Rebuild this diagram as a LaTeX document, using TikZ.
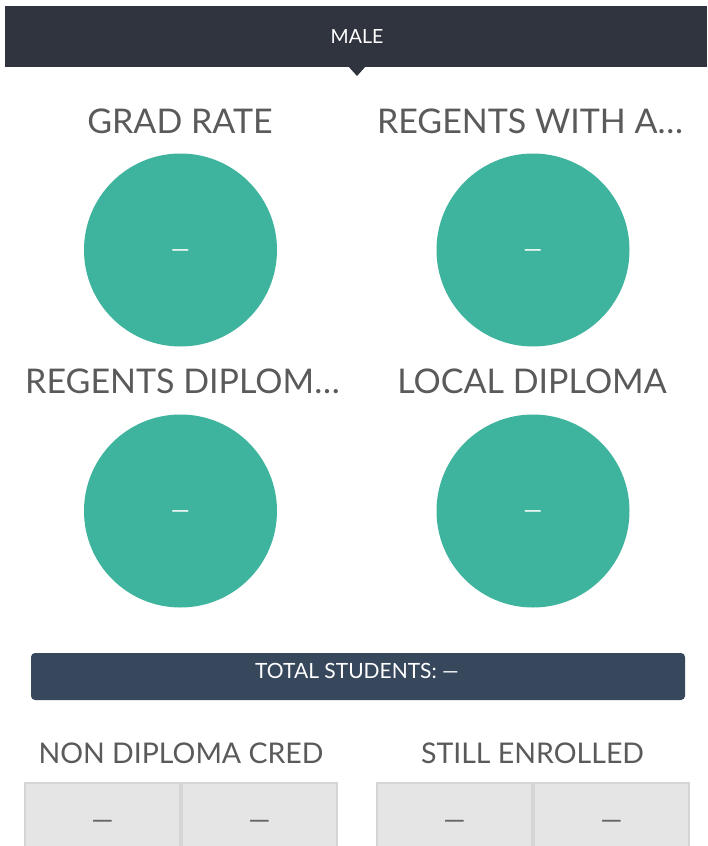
\documentclass[tikz,border=0pt]{standalone}
\usepackage{fontspec}
\setmainfont{Lato}
\definecolor{hdr}{RGB}{48,52,63}
\definecolor{teal}{RGB}{62,180,158}
\definecolor{ttl}{RGB}{90,90,90}
\definecolor{totbar}{RGB}{55,71,92}
\definecolor{cellfill}{RGB}{229,229,229}
\definecolor{cellline}{RGB}{213,213,213}
\definecolor{dashc}{RGB}{100,100,100}
\begin{document}
\begin{tikzpicture}[x=1pt,y=-1pt,
  title/.style={inner sep=0pt,text=ttl,font=\fontsize{34}{40}\selectfont},
  subtitle/.style={inner sep=0pt,text=ttl,font=\fontsize{28.5}{34}\selectfont},
  ring/.style={circle,fill=teal,minimum size=193pt,inner sep=0pt},
  ringtext/.style={inner sep=0pt,text=white,font=\fontsize{24}{28}\selectfont},
  cellbox/.style={fill=cellfill,draw=cellline,line width=2pt},
  celltext/.style={inner sep=0pt,text=dashc,font=\fontsize{28}{32}\selectfont}]
\useasboundingbox (0,0) rectangle (707,846);
\fill[white] (0,0) rectangle (707,846);
% header
\fill[hdr] (5,6) rectangle (707,67);
\fill[hdr] (348,66) -- (366,66) -- (357,76) -- cycle;
\node[inner sep=0pt,text=white,font=\fontsize{19.5}{24}\selectfont] (male) at (357,37) {MALE};
% titles row 1
\node[title] (t1) at (180,121.5) {GRAD RATE};
\node[title] (t2) at (530,121.5) {REGENTS WITH A…};
% circles
\node[ring] (c1) at (180.5,250) {};
\node[ring] (c2) at (533,250) {};
\node[ringtext] (v1) at ([yshift=-4pt]c1.center) {—};
\node[ringtext] (v2) at ([yshift=-4pt]c2.center) {—};
% titles row 2
\begin{scope}
\clip (0,340) rectangle (338,420);
\node[title,anchor=west] (t3) at (25,381.7) {REGENTS DIPLOM…};
\end{scope}
\node[title] (t4) at (532,381.7) {LOCAL DIPLOMA};
\node[ring] (c3) at (180.5,511) {};
\node[ring] (c4) at (533,511) {};
\node[ringtext] (v3) at ([yshift=-4pt]c3.center) {—};
\node[ringtext] (v4) at ([yshift=-4pt]c4.center) {—};
% total bar
\node[fill=totbar,rounded corners=4pt,minimum width=654pt,minimum height=47pt,inner sep=0pt] (tot) at (358,676.5) {};
\node[inner sep=0pt,text=white,font=\fontsize{21}{25}\selectfont] (tottxt) at (357,671) {TOTAL STUDENTS: —};
% bottom titles
\node[subtitle] (s1) at (181,753) {NON DIPLOMA CRED};
\node[subtitle] (s2) at (532.5,753) {STILL ENROLLED};
% cells
\draw[cellbox] (25,783) rectangle (180,852);
\draw[cellbox] (182,783) rectangle (337,852);
\draw[cellbox] (377,783) rectangle (532,852);
\draw[cellbox] (534,783) rectangle (689,852);
\node[celltext] (d1) at (102.5,825) {—};
\node[celltext] (d2) at (259.5,825) {—};
\node[celltext] (d3) at (454.5,825) {—};
\node[celltext] (d4) at (611.5,825) {—};
\end{tikzpicture}
\end{document}
